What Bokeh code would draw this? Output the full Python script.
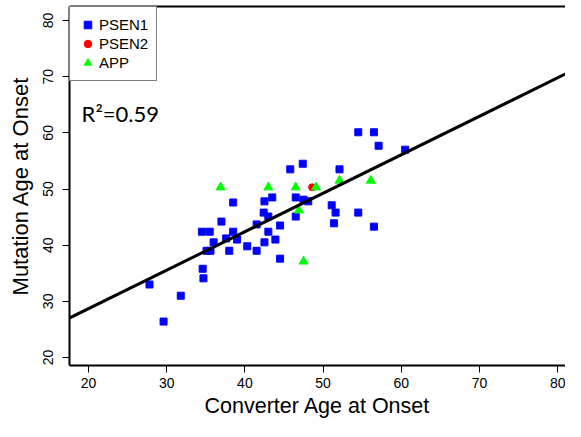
from bokeh.plotting import figure
from bokeh.models import (Range1d, FixedTicker, LinearAxis, Legend, LegendItem,
                          Label, Slope, ColumnDataSource)
from bokeh.embed import file_html
from bokeh.resources import INLINE

# ---- data ----
psen1_x = [54.5, 56.5, 57.1, 60.5, 45.8, 47.4, 52.1, 38.5, 42.5, 43.5, 46.5, 47.5,
           48.1, 42.4, 43.0, 37.0, 41.5, 46.5, 51.1, 51.6, 54.5, 51.4, 56.5, 44.5,
           34.5, 35.5, 38.5, 43.0, 36.0, 37.6, 39.0, 43.9, 42.5, 35.1, 35.6, 38.0,
           40.3, 41.5, 34.6, 34.7, 27.8, 31.8, 29.6, 44.5]
psen1_y = [60.1, 60.1, 57.7, 57.0, 53.5, 54.5, 53.5, 47.6, 47.8, 48.5, 48.5, 48.1,
           47.8, 45.8, 45.1, 44.2, 43.7, 45.1, 47.1, 45.8, 45.8, 43.9, 43.3, 43.5,
           42.4, 42.4, 42.4, 42.4, 40.5, 41.2, 41.0, 41.0, 40.5, 39.0, 39.0, 39.0,
           39.8, 39.0, 35.8, 34.1, 33.0, 31.0, 26.4, 37.6]
psen2_x = [48.6]
psen2_y = [50.3]
app_x = [36.9, 43.0, 46.5, 49.1, 52.1, 56.1, 46.9, 47.5]
app_y = [50.3, 50.3, 50.3, 50.3, 51.5, 51.5, 46.2, 37.1]

fit_slope = 0.685
fit_intercept = 15.0
r2_text = "R\u00b2=0.59"

ticks = [20, 30, 40, 50, 60, 70, 80]

# ---- figure ----
p = figure(width=565, height=421, output_backend="svg", toolbar_location=None,
           x_range=Range1d(17.57, 81.0), y_range=Range1d(18.58, 82.49),
           min_border_left=69, min_border_right=0, min_border_top=6,
           min_border_bottom=56,
           x_axis_label="Converter Age at Onset",
           y_axis_label="Mutation Age at Onset")
p.outline_line_color = None
p.xgrid.visible = False
p.ygrid.visible = False
p.background_fill_color = "white"
p.border_fill_color = "white"

for ax, lab_fs, title_fs in ((p.xaxis[0], "14px", "21.5px"), (p.yaxis[0], "14px", "22px")):
    ax.ticker = FixedTicker(ticks=ticks)
    ax.axis_line_width = 2
    ax.axis_line_color = "black"
    ax.major_tick_line_color = "black"
    ax.major_tick_line_width = 1
    ax.major_tick_out = 7
    ax.major_tick_in = 0
    ax.minor_tick_line_color = None
    ax.major_label_text_font = "Liberation Sans"
    ax.major_label_text_font_size = lab_fs
    ax.major_label_text_color = "black"
    ax.axis_label_text_font = "Liberation Sans"
    ax.axis_label_text_font_size = title_fs
    ax.axis_label_text_font_style = "normal"
    ax.axis_label_text_color = "black"

p.xaxis[0].major_label_standoff = 5
p.xaxis[0].axis_label_standoff = 3
p.yaxis[0].major_label_standoff = 9
p.yaxis[0].axis_label_standoff = 8
p.yaxis[0].major_label_orientation = "vertical"

top = LinearAxis(ticker=FixedTicker(ticks=[]), axis_line_width=2, axis_line_color="black",
                 major_tick_line_color=None, minor_tick_line_color=None,
                 major_label_text_font_size="0px", major_label_standoff=0,
                 major_tick_out=0, major_tick_in=0, minor_tick_out=0, minor_tick_in=0)
p.add_layout(top, "above")

# regression line
p.add_layout(Slope(gradient=fit_slope, y_intercept=fit_intercept,
                   line_color="black", line_width=3))

s1 = ColumnDataSource(dict(x=psen1_x, y=psen1_y))
s2 = ColumnDataSource(dict(x=psen2_x, y=psen2_y))
s3 = ColumnDataSource(dict(x=app_x, y=app_y))
r1 = p.scatter("x", "y", source=s1, marker="square", size=7,
               fill_color="#0000FF", line_color="#0000FF")
r2 = p.scatter("x", "y", source=s2, marker="circle", size=7,
               fill_color="#FF0000", line_color="#FF0000")
r3 = p.scatter("x", "y", source=s3, marker="triangle", size=9,
               fill_color="#00FF00", line_color="#00FF00")

legend = Legend(items=[LegendItem(label="PSEN1", renderers=[r1]),
                       LegendItem(label="PSEN2", renderers=[r2]),
                       LegendItem(label="APP", renderers=[r3])],
                location="top_left", margin=0, padding=8, spacing=0,
                glyph_width=19, glyph_height=19, label_height=19, label_standoff=2,
                border_line_color="black", border_line_width=1,
                label_text_font="Liberation Sans", label_text_font_size="15px",
                label_text_color="black", background_fill_alpha=1.0)
p.add_layout(legend)

p.add_layout(Label(x=19.12, y=63.4, text=r2_text, text_font="Lato",
                   text_font_size="22px", text_color="black",
                   text_baseline="alphabetic"))

open("out.html", "w").write(file_html(p, INLINE))
